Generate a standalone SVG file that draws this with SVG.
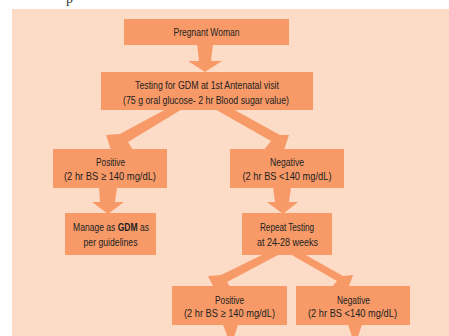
<svg xmlns="http://www.w3.org/2000/svg" width="449" height="336" viewBox="0 0 449 336">
<style>
.bx{fill:#F79A68}
.ar{fill:#F79A68}
.t{font-family:"Liberation Sans",Arial,sans-serif;font-size:11px;fill:#222;text-anchor:middle}
</style>
<rect x="0" y="0" width="449" height="336" fill="#ffffff"/>
<text x="66" y="3" font-family="Liberation Serif,serif" font-size="14" fill="#333">p</text>
<rect x="12" y="9" width="437" height="327" fill="#FDDCC7"/>
<g id="connectors">
<polygon class="ar" points="197,44 213,44 211,61 222,61 205,72 188,61 199,61"/>
<polygon class="ar" points="168,108 184,108 128,142 135,153 111,150 106,135 120,134"/>
<polygon class="ar" points="213,108 231,108 280,135 289,135 284,150 262,152 271,141"/>
<polygon class="ar" points="99,187 117,187 115,202 124,202 108,214 92,202 100,202"/>
<polygon class="ar" points="273,187 291,187 289,202 298,202 283,214 267,202 275,202"/>
<polygon class="ar" points="264,254 280,254 227,282 232,290 214,288 208,276 221,275"/>
<polygon class="ar" points="290,254 304,254 343,276 353,275 348,289 330,289 337,281"/>
<polygon class="ar" points="222,322 239,322 231,346"/>
<polygon class="ar" points="347,322 363,322 355,345"/>
</g>
<g id="pregnant"><rect class="bx" x="124" y="19" width="165" height="26"/><text class="t" x="206.5" y="36" textLength="66" lengthAdjust="spacingAndGlyphs">Pregnant Woman</text></g>
<g id="testing"><rect class="bx" x="101" y="72" width="212" height="38"/><text class="t" x="207" y="88.5" textLength="144" lengthAdjust="spacingAndGlyphs">Testing for GDM at 1st Antenatal visit</text><text class="t" x="206" y="103.5" textLength="166" lengthAdjust="spacingAndGlyphs">(75 g oral glucose- 2 hr Blood sugar value)</text></g>
<g id="positive1"><rect class="bx" x="53" y="149" width="114" height="39"/><text class="t" x="110.5" y="166" textLength="29" lengthAdjust="spacingAndGlyphs">Positive</text><text class="t" x="110" y="179.5" textLength="92" lengthAdjust="spacingAndGlyphs">(2 hr BS ≥ 140 mg/dL)</text></g>
<g id="negative1"><rect class="bx" x="230" y="149" width="114" height="39"/><text class="t" x="287" y="166" textLength="34" lengthAdjust="spacingAndGlyphs">Negative</text><text class="t" x="287" y="179.5" textLength="89" lengthAdjust="spacingAndGlyphs">(2 hr BS &lt;140 mg/dL)</text></g>
<g id="manage"><rect class="bx" x="65" y="213" width="91" height="42"/><g transform="translate(111,231) scale(0.777,1)"><text class="t" x="0" y="0">Manage as <tspan font-weight="bold">GDM</tspan> as</text></g><text class="t" x="110.5" y="246" textLength="54" lengthAdjust="spacingAndGlyphs">per guidelines</text></g>
<g id="repeat"><rect class="bx" x="242" y="213" width="90" height="42"/><text class="t" x="287" y="231" textLength="54" lengthAdjust="spacingAndGlyphs">Repeat Testing</text><text class="t" x="287.5" y="246" textLength="61" lengthAdjust="spacingAndGlyphs">at 24-28 weeks</text></g>
<g id="positive2"><rect class="bx" x="172" y="286" width="115" height="39"/><text class="t" x="229.5" y="303.5" textLength="29" lengthAdjust="spacingAndGlyphs">Positive</text><text class="t" x="229.5" y="317" textLength="91" lengthAdjust="spacingAndGlyphs">(2 hr BS ≥ 140 mg/dL)</text></g>
<g id="negative2"><rect class="bx" x="296" y="286" width="114" height="39"/><text class="t" x="353.5" y="303.5" textLength="33" lengthAdjust="spacingAndGlyphs">Negative</text><text class="t" x="352.5" y="317" textLength="89" lengthAdjust="spacingAndGlyphs">(2 hr BS &lt;140 mg/dL)</text></g>
</svg>
